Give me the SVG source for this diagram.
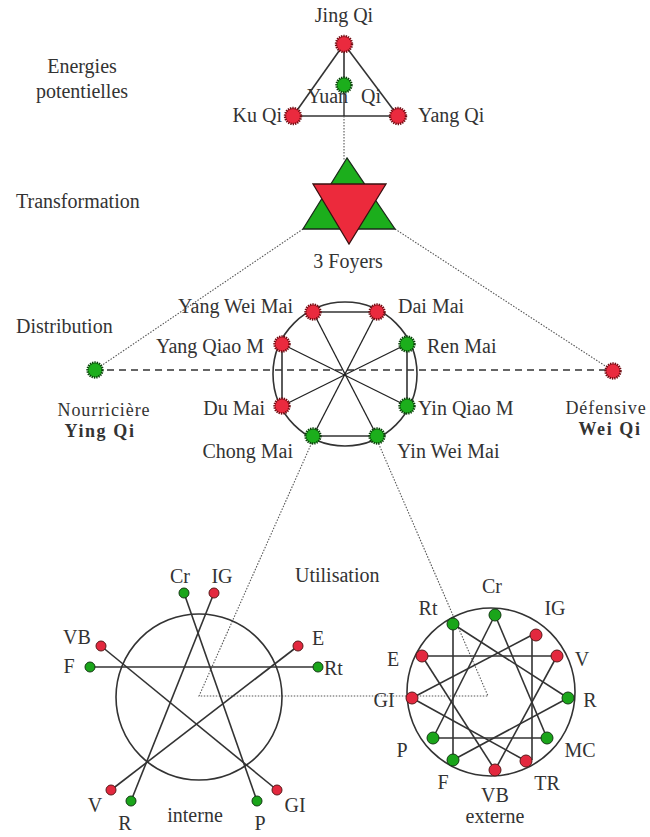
<svg xmlns="http://www.w3.org/2000/svg" width="650" height="837" viewBox="0 0 650 837">
<style>
text{font-family:"Liberation Serif","Times New Roman",serif;font-size:20px;fill:#333}
.b{font-weight:bold}
.m{text-anchor:middle}
.e{text-anchor:end}
.ln{stroke:#333;stroke-width:1.6;fill:none}
.ln2{stroke:#222;stroke-width:1.3;fill:none}
.dot{stroke:#555;stroke-width:1.1;stroke-dasharray:1.5 1.5;fill:none}
.dash{stroke:#333;stroke-width:1.6;stroke-dasharray:7 5;fill:none}
.rs{fill:#ea2a3e;stroke:#6e0c12;stroke-width:2.4;stroke-dasharray:1.3 1}
.gs{fill:#1cae1c;stroke:#0b3f0b;stroke-width:2.4;stroke-dasharray:1.3 1}
.r{fill:#e3283e;stroke:#5a1a1a;stroke-width:1}
.g{fill:#1aa51a;stroke:#143a14;stroke-width:1}
.sm{font-size:18px}
</style>
<rect width="650" height="837" fill="#fff"/>

<g id="section-labels">
<text class="m" x="82" y="73">Energies</text>
<text class="m" x="82" y="98">potentielles</text>
<text x="16" y="208">Transformation</text>
<text x="16" y="333">Distribution</text>
<text x="295" y="582">Utilisation</text>
</g>

<g id="connectors">
<line class="ln" x1="344" y1="44" x2="293" y2="116"/>
<line class="ln" x1="344" y1="44" x2="398" y2="116"/>
<line class="ln" x1="293" y1="116" x2="398" y2="116"/>
<line class="ln" x1="344" y1="44" x2="344" y2="85"/>
<line class="ln2" x1="344" y1="85" x2="344" y2="116"/>
<line class="dot" x1="344" y1="116" x2="344" y2="160"/>
<line class="dot" x1="303" y1="229" x2="95" y2="370"/>
<line class="dot" x1="395" y1="229" x2="613" y2="371"/>
<line class="dash" x1="95" y1="370" x2="613" y2="370"/>
<circle class="ln" cx="345" cy="374" r="72"/>
<line class="ln" x1="313" y1="312" x2="377" y2="312"/>
<line class="ln" x1="313" y1="436" x2="377" y2="436"/>
<line class="ln" x1="282" y1="344" x2="282" y2="406"/>
<line class="ln" x1="407" y1="344" x2="407" y2="406"/>
<line class="ln2" x1="313" y1="312" x2="377" y2="436"/>
<line class="ln2" x1="377" y1="312" x2="313" y2="436"/>
<line class="ln2" x1="282" y1="344" x2="407" y2="406"/>
<line class="ln2" x1="407" y1="344" x2="282" y2="406"/>
<polyline class="dot" points="313,440 199,696 488,696 377,440"/>
<circle class="ln" cx="199" cy="697" r="83"/>
<line class="ln" x1="90" y1="667" x2="318" y2="667"/>
<line class="ln" x1="101" y1="646" x2="277" y2="790"/>
<line class="ln" x1="298" y1="646" x2="111" y2="790"/>
<line class="ln" x1="214" y1="593" x2="131" y2="801"/>
<line class="ln" x1="184" y1="593" x2="257" y2="801"/>
<circle class="ln" cx="491" cy="692" r="84"/>
<line class="ln" x1="422" y1="656" x2="557" y2="656"/>
<line class="ln" x1="422" y1="656" x2="495" y2="770"/>
<line class="ln" x1="557" y1="656" x2="495" y2="770"/>
<line class="ln" x1="433" y1="738" x2="547" y2="738"/>
<line class="ln" x1="495" y1="615" x2="433" y2="738"/>
<line class="ln" x1="495" y1="615" x2="547" y2="738"/>
<line class="ln" x1="453" y1="624" x2="453" y2="760"/>
<line class="ln" x1="453" y1="624" x2="568" y2="698"/>
<line class="ln" x1="453" y1="760" x2="568" y2="698"/>
<line class="ln" x1="532" y1="634" x2="532" y2="760"/>
<line class="ln" x1="412" y1="698" x2="534" y2="634"/>
<line class="ln" x1="412" y1="698" x2="526" y2="761"/>
</g>

<g id="node-jing-qi"><circle class="rs" cx="344" cy="44" r="8"/><text class="m" x="344" y="22">Jing Qi</text></g>
<g id="node-yuan-qi"><circle class="gs" cx="344" cy="85" r="7.5"/><text x="307" y="103" font-size="19"><tspan>Yuan</tspan><tspan x="361">Qi</tspan></text></g>
<g id="node-ku-qi"><circle class="rs" cx="293" cy="116" r="8"/><text class="e" x="282" y="122" font-size="21">Ku Qi</text></g>
<g id="node-yang-qi"><circle class="rs" cx="398" cy="116" r="8"/><text x="418" y="122">Yang Qi</text></g>

<g id="node-3-foyers">
<polygon points="347,158 303,229 395,229" fill="#1cae1c" stroke="#1a2a1a" stroke-width="1.3"/>
<polygon points="313,184 386,184 349,244" fill="#ec2a3c" stroke="#3a1010" stroke-width="1.3"/>
<text class="m" x="348" y="268" font-size="18">3 Foyers</text>
</g>

<g id="node-ying-qi"><circle class="gs" cx="95" cy="370" r="7.5"/><text class="m sm" x="104" y="416" letter-spacing="0.9">Nourricière</text><text class="m b sm" x="100" y="437" letter-spacing="1.6">Ying Qi</text></g>
<g id="node-wei-qi"><circle class="rs" cx="613" cy="371" r="7.5"/><text class="m sm" x="606" y="414" letter-spacing="0.9">Défensive</text><text class="m b sm" x="610" y="435" letter-spacing="1.6">Wei Qi</text></g>

<g id="node-yang-wei-mai"><circle class="rs" cx="313" cy="312" r="7.5"/><text class="e" x="293" y="313">Yang Wei Mai</text></g>
<g id="node-dai-mai"><circle class="rs" cx="377" cy="312" r="7.5"/><text x="398" y="313">Dai Mai</text></g>
<g id="node-yang-qiao-m"><circle class="rs" cx="282" cy="344" r="7.5"/><text class="e" x="264" y="353">Yang Qiao M</text></g>
<g id="node-ren-mai"><circle class="gs" cx="407" cy="344" r="7.5"/><text x="427" y="353">Ren Mai</text></g>
<g id="node-du-mai"><circle class="rs" cx="282" cy="406" r="7.5"/><text class="e" x="265" y="415">Du Mai</text></g>
<g id="node-yin-qiao-m"><circle class="gs" cx="407" cy="406" r="7.5"/><text x="418" y="415">Yin Qiao M</text></g>
<g id="node-chong-mai"><circle class="gs" cx="313" cy="436" r="7.5"/><text class="e" x="293" y="458">Chong Mai</text></g>
<g id="node-yin-wei-mai"><circle class="gs" cx="377" cy="436" r="7.5"/><text x="397" y="458">Yin Wei Mai</text></g>

<g id="interne">
<g id="int-cr"><circle class="g" cx="184" cy="593" r="5"/><text class="m" x="180" y="583">Cr</text></g>
<g id="int-ig"><circle class="r" cx="214" cy="593" r="5"/><text class="m" x="222" y="583">IG</text></g>
<g id="int-vb"><circle class="r" cx="101" cy="646" r="5"/><text class="m" x="77" y="644">VB</text></g>
<g id="int-f"><circle class="g" cx="90" cy="667" r="5"/><text class="m" x="69" y="673">F</text></g>
<g id="int-e"><circle class="r" cx="298" cy="646" r="5"/><text class="m" x="318" y="645">E</text></g>
<g id="int-rt"><circle class="g" cx="318" cy="667" r="5"/><text x="324" y="675">Rt</text></g>
<g id="int-v"><circle class="r" cx="111" cy="790" r="5"/><text class="m" x="95" y="812">V</text></g>
<g id="int-r"><circle class="g" cx="131" cy="801" r="5"/><text class="m" x="125" y="830">R</text></g>
<g id="int-p"><circle class="g" cx="257" cy="801" r="5"/><text class="m" x="260" y="830">P</text></g>
<g id="int-gi"><circle class="r" cx="277" cy="790" r="5"/><text class="m" x="295" y="812">GI</text></g>
<text class="m" x="195" y="822">interne</text>
</g>

<g id="externe">
<g id="ext-cr"><circle class="g" cx="495" cy="615" r="6"/><text class="m" x="492" y="593">Cr</text></g>
<g id="ext-rt"><circle class="g" cx="453" cy="624" r="6"/><text class="m" x="428" y="615">Rt</text></g>
<g id="ext-ig"><circle class="r" cx="536" cy="635" r="6"/><text class="m" x="555" y="615">IG</text></g>
<g id="ext-e"><circle class="r" cx="422" cy="656" r="6"/><text class="m" x="393" y="666">E</text></g>
<g id="ext-v"><circle class="r" cx="557" cy="656" r="6"/><text class="m" x="582" y="666">V</text></g>
<g id="ext-gi"><text class="m" x="384" y="707">GI</text><circle class="r" cx="412" cy="698" r="6"/></g>
<g id="ext-r"><circle class="g" cx="568" cy="698" r="6"/><text class="m" x="590" y="707">R</text></g>
<g id="ext-p"><circle class="g" cx="433" cy="738" r="6"/><text class="m" x="402" y="757">P</text></g>
<g id="ext-mc"><circle class="g" cx="547" cy="738" r="6"/><text class="m" x="580" y="757">MC</text></g>
<g id="ext-f"><circle class="g" cx="453" cy="760" r="6"/><text class="m" x="443" y="789">F</text></g>
<g id="ext-tr"><circle class="r" cx="526" cy="761" r="6"/><text class="m" x="547" y="790">TR</text></g>
<g id="ext-vb"><circle class="r" cx="495" cy="770" r="6"/><text class="m" x="495" y="802">VB</text></g>
<text class="m" x="495" y="823">externe</text>
</g>
</svg>
